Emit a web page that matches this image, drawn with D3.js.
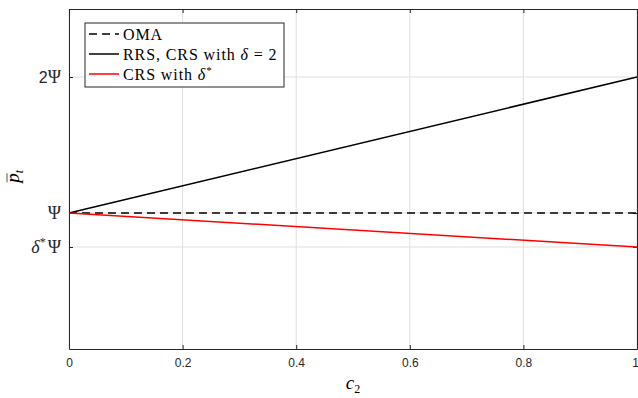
<!DOCTYPE html>
<meta charset="utf-8">
<style>
body { margin: 0; background: #fff; }
.tick text { font-family: "Liberation Sans", Arial, sans-serif; font-size: 12px; fill: #262626; }
.ylab text { font-family: "Liberation Serif", "DejaVu Serif", serif; font-size: 18px; fill: #262626; }
.legend text { font-family: "Liberation Serif", "DejaVu Serif", serif; font-size: 16px; letter-spacing: 0.9px; fill: #000; }
</style>
<body>
<script src="https://d3js.org/d3.v7.min.js"></script>
<script>
// c2 values and p_t (in units of Psi)
var c2 = [0, 1];
var oma = [1, 1];
var rrs = [1, 2];
var crsStar = [1, 0.75];
var xTicks = [0, 0.2, 0.4, 0.6, 0.8, 1];
var yTicks = [0.75, 1, 2];
var legendNames = ["OMA", "RRS, CRS with δ = 2", "CRS with δ*"];

var margin = {top: 9, right: 1, bottom: 49, left: 69},
    width = 638 - margin.left - margin.right,
    height = 398 - margin.top - margin.bottom;

var x = d3.scaleLinear().domain([0, 1]).range([0, width]);
var y = d3.scaleLinear().domain([0, 2.5]).range([height, 0]);

var svg = d3.select("body").append("svg")
    .attr("width", 638).attr("height", 398)
  .append("g")
    .attr("transform", "translate(" + margin.left + "," + margin.top + ")");

// grid
svg.selectAll(".vg").data(xTicks).enter().append("line")
    .attr("x1", d => x(d)).attr("x2", d => x(d))
    .attr("y1", 0).attr("y2", height)
    .style("stroke", "#dfdfdf").style("stroke-width", 1);
svg.selectAll(".hg").data(yTicks).enter().append("line")
    .attr("x1", 0).attr("x2", width)
    .attr("y1", d => y(d)).attr("y2", d => y(d))
    .style("stroke", "#dfdfdf").style("stroke-width", 1);

// axes
var xAxis = svg.append("g")
    .attr("transform", "translate(0," + height + ")")
    .call(d3.axisBottom(x).tickValues(xTicks).tickFormat(d3.format("")).tickSizeInner(-4).tickSizeOuter(0).tickPadding(9));
xAxis.selectAll(".tick text").filter(d => d === 1).attr("dx", -2);
svg.append("g")
    .call(d3.axisTop(x).tickValues(xTicks).tickFormat("").tickSizeInner(-4).tickSizeOuter(0));
var yAxis = svg.append("g")
    .call(d3.axisLeft(y).tickValues(yTicks).tickFormat("").tickSizeInner(-4).tickSizeOuter(0));
svg.append("g")
    .attr("transform", "translate(" + width + ",0)")
    .call(d3.axisRight(y).tickValues(yTicks).tickFormat("").tickSizeInner(-4).tickSizeOuter(0));
svg.selectAll(".domain").style("stroke", "#262626");
svg.selectAll(".tick line").style("stroke", "#262626");

// y tick labels
var ylab = svg.append("g").attr("class", "ylab");
ylab.append("text").attr("x", -8).attr("y", y(2)).attr("dy", "0.35em").attr("text-anchor", "end")
    .html("<tspan style='font-family: Liberation Sans, Arial, sans-serif; font-size: 16px'>2</tspan>Ψ");
ylab.append("text").attr("x", -8).attr("y", y(1)).attr("dy", "0.35em").attr("text-anchor", "end")
    .text("Ψ");
ylab.append("text").attr("x", -8).attr("y", y(0.75)).attr("dy", "0.35em").attr("text-anchor", "end")
    .html("<tspan font-style='italic'>δ</tspan><tspan font-size='12px' dy='-7'>*</tspan><tspan dx='2' dy='7'>Ψ</tspan>");

// lines
var line = d3.line().x((d, i) => x(c2[i])).y(d => y(d));
svg.append("path").datum(oma).attr("d", line)
    .style("fill", "none").style("stroke", "#000").style("stroke-width", 1.5).style("stroke-dasharray", "8,5");
svg.append("path").datum(rrs).attr("d", line)
    .style("fill", "none").style("stroke", "#000").style("stroke-width", 1.5);
svg.append("path").datum(crsStar).attr("d", line)
    .style("fill", "none").style("stroke", "#ff0000").style("stroke-width", 1.5);

// axis labels
svg.append("text")
    .attr("x", width / 2).attr("y", height + 40)
    .attr("text-anchor", "middle")
    .style("font-family", "Liberation Serif, serif").style("font-style", "italic").style("font-size", "19px")
    .html("c<tspan font-size='12px' font-style='normal' dy='4'>2</tspan>");
var yl = svg.append("g").attr("transform", "translate(" + (-50) + "," + (y(1.27)) + ") rotate(-90)");
yl.append("text")
    .attr("text-anchor", "middle")
    .style("font-family", "Liberation Serif, serif").style("font-style", "italic").style("font-size", "19px")
    .html("p<tspan font-size='12px' dy='4'>t</tspan>");
yl.append("line").attr("x1", -6).attr("x2", 3).attr("y1", -12).attr("y2", -12)
    .style("stroke", "#262626").style("stroke-width", 0.8);

// legend
var lg = svg.append("g").attr("class", "legend").attr("transform", "translate(16,14)");
lg.append("rect").attr("width", 199).attr("height", 64)
    .style("fill", "#fff").style("stroke", "#262626").style("stroke-width", 1);
var styles = [{c: "#000", d: "8,5"}, {c: "#000", d: null}, {c: "#ff0000", d: null}];
legendNames.forEach(function(n, i) {
  var yy = 11 + i * 20;
  lg.append("line").attr("x1", 4).attr("x2", 34).attr("y1", yy).attr("y2", yy)
    .style("stroke", styles[i].c).style("stroke-width", 1.5)
    .style("stroke-dasharray", styles[i].d);
  var t = lg.append("text").attr("x", 38).attr("y", yy).attr("dy", "0.35em");
  if (i === 0) t.text(n);
  else if (i === 1) t.html("RRS, CRS with <tspan font-style='italic'>δ</tspan> = 2");
  else t.html("CRS with <tspan font-style='italic'>δ</tspan><tspan font-size='11px' dy='-6'>*</tspan>");
});
</script>
</body>
